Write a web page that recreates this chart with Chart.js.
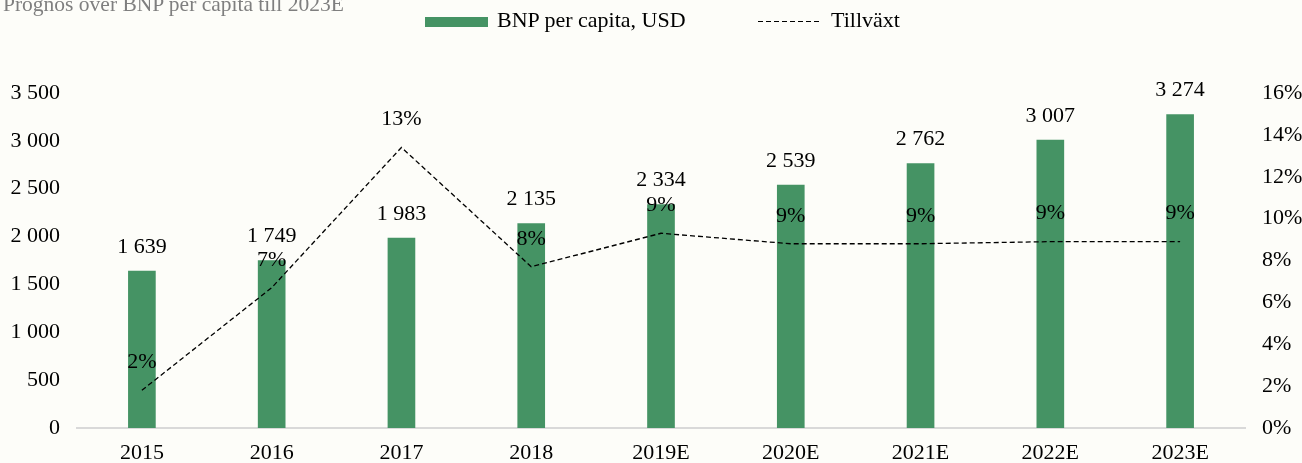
<!DOCTYPE html>
<html>
<head>
<meta charset="utf-8">
<script src="https://cdn.jsdelivr.net/npm/chart.js@4/dist/chart.umd.min.js"></script>
<style>
  html, body { margin: 0; padding: 0; background: #fdfdf9; }
  #wrap { position: relative; width: 1302px; height: 463px; overflow: hidden; font-family: "Liberation Serif", "Times New Roman", serif; }
  #chart { position: absolute; left: 0; top: 0; }
  .title { position: absolute; left: 3px; top: -6px; font-size: 21.5px; line-height: 1; color: #7f7f7f; white-space: nowrap; }
  .leg { position: absolute; font-size: 22px; line-height: 1; color: #000; white-space: nowrap; top: 9px; }
  .box { position: absolute; left: 425px; top: 17px; width: 63px; height: 10px; background: #459364; }
  .dash { position: absolute; left: 758px; top: 21px; width: 64px; height: 1.4px;
          background: repeating-linear-gradient(to right, #000 0 5px, transparent 5px 8px); }
</style>
</head>
<body>
<div id="wrap">
  <canvas id="chart" width="1302" height="463"></canvas>
  <div class="title">Prognos över BNP per capita till 2023E</div>
  <div class="box"></div>
  <div class="leg" style="left:497px">BNP per capita, USD</div>
  <div class="dash"></div>
  <div class="leg" style="left:831px">Tillväxt</div>
</div>
<script>
// kategorier och värden
const years = ['2015', '2016', '2017', '2018', '2019E', '2020E', '2021E', '2022E', '2023E'];
const gdpPerCapita = [1639, 1749, 1983, 2135, 2334, 2539, 2762, 3007, 3274];
const growth = [1.8, 6.7, 13.4, 7.7, 9.3, 8.8, 8.8, 8.9, 8.9];
const growthLabels = ['2%', '7%', '13%', '8%', '9%', '9%', '9%', '9%', '9%'];

const FONT = '"Liberation Serif", "Times New Roman", serif';

function fmt(v) {
  return String(v).replace(/\B(?=(\d{3})+(?!\d))/g, ' ');
}

// etiketter ovanför staplar och linjepunkter
const valueLabels = {
  id: 'valueLabels',
  afterDatasetsDraw(chart) {
    const ctx = chart.ctx;
    ctx.save();
    ctx.font = '22px ' + FONT;
    ctx.fillStyle = '#000';
    ctx.textAlign = 'center';
    ctx.textBaseline = 'middle';
    chart.getDatasetMeta(0).data.forEach((el, i) => {
      ctx.fillText(fmt(gdpPerCapita[i]), el.x, el.y - 24);
    });
    chart.getDatasetMeta(1).data.forEach((el, i) => {
      ctx.fillText(growthLabels[i], el.x, el.y - 28);
    });
    ctx.restore();
  }
};

new Chart(document.getElementById('chart'), {
  data: {
    labels: years,
    datasets: [
      {
        type: 'bar',
        label: 'BNP per capita, USD',
        data: gdpPerCapita,
        backgroundColor: '#459364',
        barThickness: 27,
        yAxisID: 'y',
        order: 2
      },
      {
        type: 'line',
        label: 'Tillväxt',
        data: growth,
        borderColor: '#000',
        borderWidth: 1.3,
        borderDash: [5, 3],
        pointRadius: 0,
        tension: 0,
        fill: false,
        yAxisID: 'y1',
        order: 1
      }
    ]
  },
  options: {
    responsive: false,
    animation: false,
    layout: { padding: { top: 93, left: 0, right: 0, bottom: 0 } },
    plugins: {
      legend: { display: false },
      tooltip: { enabled: false }
    },
    scales: {
      x: {
        grid: { display: false, drawTicks: false },
        border: { display: true, color: '#d9d9d9', width: 2 },
        ticks: { color: '#000', font: { family: FONT, size: 22 }, padding: 12, maxRotation: 0 },
        afterFit(s) { s.height = 35; }
      },
      y: {
        position: 'left',
        min: 0, max: 3500,
        grid: { display: false, drawTicks: false },
        border: { display: false },
        ticks: { stepSize: 500, color: '#000', font: { family: FONT, size: 22 }, padding: 17, callback: v => fmt(v) },
        afterFit(s) { s.width = 77; }
      },
      y1: {
        position: 'right',
        min: 0, max: 16,
        grid: { display: false, drawTicks: false },
        border: { display: false },
        ticks: { stepSize: 2, color: '#000', font: { family: FONT, size: 22 }, padding: 17, callback: v => v + '%' },
        afterFit(s) { s.width = 57; }
      }
    }
  },
  plugins: [valueLabels]
});
</script>
</body>
</html>
